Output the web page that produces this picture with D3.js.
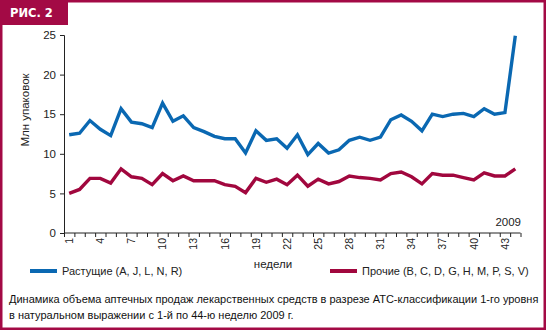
<!DOCTYPE html>
<html>
<head>
<meta charset="utf-8">
<script src="https://cdn.jsdelivr.net/npm/d3@7/dist/d3.min.js"></script>
<style>
  html, body { margin: 0; padding: 0; background: #fff; }
  svg { display: block; font-family: "Liberation Sans", Arial, sans-serif; }
</style>
</head>
<body>
<svg id="chart" width="546" height="330"></svg>
<script>
// Weekly pharmacy sales volume, 2009, million packages
const weeks = d3.range(1, 45);
const growing = [12.4, 12.6, 14.2, 13.1, 12.3, 15.7, 14.0, 13.8, 13.3, 16.4, 14.1, 14.8,
                 13.3, 12.8, 12.2, 11.9, 11.9, 10.1, 12.9, 11.7, 11.9, 10.7, 12.4, 9.9,
                 11.3, 10.1, 10.5, 11.7, 12.1, 11.7, 12.1, 14.3, 14.9, 14.1, 12.9, 15.0,
                 14.7, 15.0, 15.1, 14.7, 15.7, 15.0, 15.2, 24.9];
const others = [5.0, 5.5, 6.9, 6.9, 6.3, 8.1, 7.1, 6.9, 6.1, 7.5, 6.6, 7.2,
                6.6, 6.6, 6.6, 6.1, 5.9, 5.1, 6.9, 6.4, 6.8, 6.1, 7.3, 5.9,
                6.8, 6.2, 6.5, 7.2, 7.0, 6.9, 6.7, 7.5, 7.7, 7.1, 6.2, 7.5,
                7.3, 7.3, 7.0, 6.7, 7.6, 7.2, 7.2, 8.1];
const yTicks = [0, 5, 10, 15, 20, 25];
const xLabelWeeks = [1, 4, 7, 10, 13, 16, 19, 22, 25, 28, 31, 34, 37, 40, 43];
const seriesNames = ["Растущие (A, J, L, N, R)", "Прочие (B, C, D, G, H, M, P, S, V)"];
const seriesColors = ["#0a68b2", "#a1073e"];
const frameColor = "#a30a45";

const svg = d3.select("#chart");

// Frame and figure tag
const frame = svg.append("g");
frame.append("rect").attr("x", 1.25).attr("y", 1.25).attr("width", 543.5).attr("height", 327.5)
  .attr("fill", "none").attr("stroke", frameColor).attr("stroke-width", 2.5);
frame.append("rect").attr("x", 0).attr("y", 0).attr("width", 68).attr("height", 25)
  .attr("fill", frameColor);
frame.append("text").attr("x", 10).attr("y", 16.5).attr("fill", "#fff")
  .attr("font-family", "'DejaVu Sans', sans-serif").attr("font-weight", "bold")
  .attr("font-size", 11.5).text("РИС. 2");

// Scales
const x = d3.scaleLinear().domain([0.5, 44.5]).range([64, 520.5]);
const y = d3.scaleLinear().domain([0, 25]).range([233, 35]);

// Y axis
const yAxis = svg.append("g").attr("transform", `translate(${x(0.5)},0)`)
  .call(d3.axisLeft(y).tickValues(yTicks).tickSize(4).tickPadding(4));
yAxis.selectAll("text").attr("font-size", 11.5).attr("fill", "#222");
yAxis.selectAll("line, path").attr("stroke", "#222");

// X axis: ticks on week boundaries, labels under every third week
const xAxis = svg.append("g").attr("transform", `translate(0,${y(0)})`)
  .call(d3.axisBottom(x).tickValues(d3.range(0.5, 45, 1)).tickSize(4).tickFormat(""));
xAxis.selectAll("line, path").attr("stroke", "#222");
xAxis.select(".domain").attr("d", `M${x(0.5)},0H${x(44.5)}`);
svg.append("g").selectAll("text").data(xLabelWeeks).join("text")
  .attr("transform", d => `translate(${x(d) + 3.8},${y(0) + 5}) rotate(-90)`)
  .attr("text-anchor", "end").attr("font-size", 10.5).attr("fill", "#222")
  .text(d => d);

// Axis titles
svg.append("text").attr("transform", "translate(29,110) rotate(-90)")
  .attr("text-anchor", "middle").attr("font-size", 11.5).attr("fill", "#222").text("Млн упаковок");
svg.append("text").attr("x", 521).attr("y", 226).attr("text-anchor", "end")
  .attr("font-size", 11.5).attr("fill", "#222").text("2009");
svg.append("text").attr("x", 273).attr("y", 268).attr("text-anchor", "middle")
  .attr("font-size", 11.5).attr("fill", "#222").text("недели");

// Lines
const line = d3.line().x((d, i) => x(weeks[i])).y(d => y(d)).curve(d3.curveLinear);
[growing, others].forEach((vals, k) => {
  svg.append("path").datum(vals).attr("d", line).attr("fill", "none")
    .attr("stroke", seriesColors[k]).attr("stroke-width", 3.4).attr("stroke-linejoin", "miter");
});

// Legend
const legendX = [30, 330];
seriesNames.forEach((name, k) => {
  const g = svg.append("g").attr("transform", `translate(${legendX[k]},271)`);
  g.append("line").attr("x1", 0).attr("x2", 27).attr("stroke", seriesColors[k]).attr("stroke-width", 4);
  g.append("text").attr("x", 32).attr("y", 4).attr("font-size", 11).attr("fill", "#222").text(name);
});

// Caption
const caption = [
  "Динамика объема аптечных продаж лекарственных средств в разрезе АТС-классификации 1-го уровня",
  "в натуральном выражении с 1-й по 44-ю неделю 2009 г."
];
svg.append("g").selectAll("text").data(caption).join("text")
  .attr("x", 9).attr("y", (d, i) => 303 + i * 15.5)
  .attr("font-size", 11).attr("fill", "#111").text(d => d);
</script>
</body>
</html>
